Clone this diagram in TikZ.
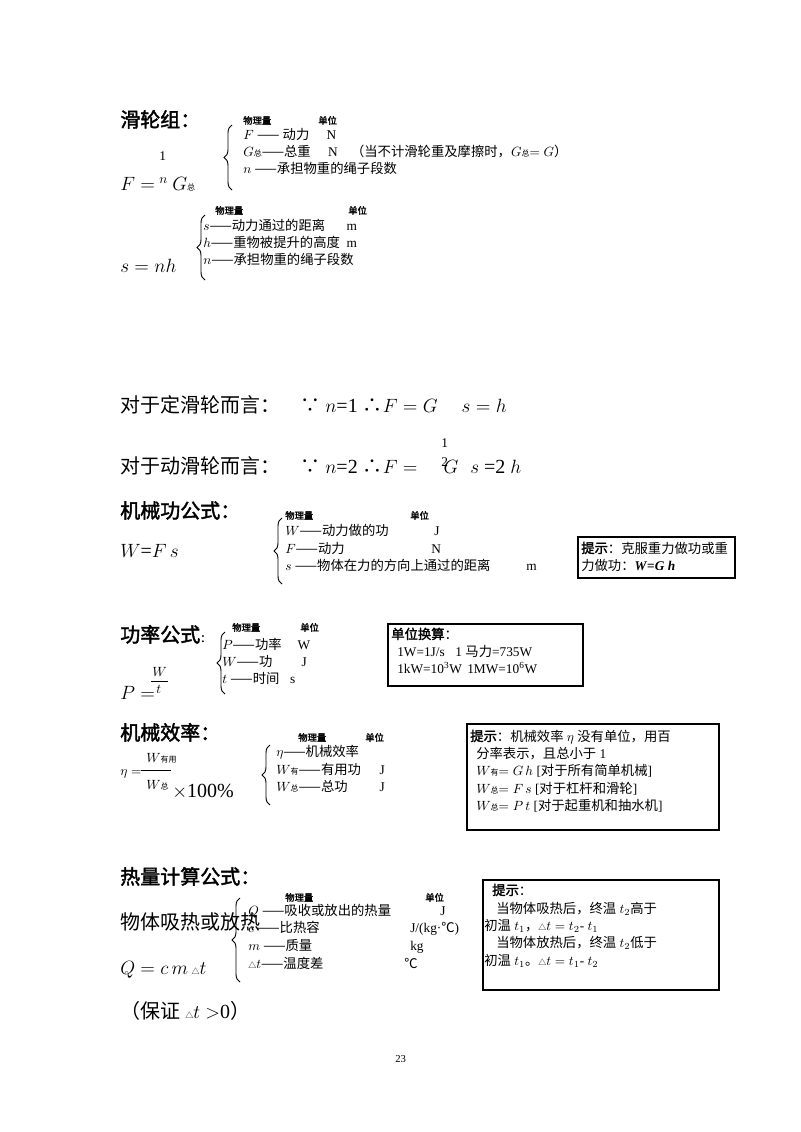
\documentclass[tikz,border=0pt]{standalone}
\usepackage{fontspec}
\setmainfont{Liberation Serif}
\newfontfamily\cjk{Noto Sans CJK SC}[AutoFakeBold=2]
\newcommand\zh[1]{{\cjk #1}}
\newcommand\zs[1]{{\cjk\fontsize{6}{7}\selectfont #1}}
\usetikzlibrary{decorations.pathreplacing}

\begin{document}
\begin{tikzpicture}
  [
    x = 0.75pt, y = -0.75pt,
    txt/.style = {anchor = base west, inner sep = 0pt, font = \fontsize{10}{12}\selectfont},
    hdr/.style = {anchor = base west, inner sep = 0pt, font = \cjk\bfseries\fontsize{15}{18}\selectfont},
    big/.style = {anchor = base west, inner sep = 0pt, font = \fontsize{15}{18}\selectfont},
    lbl/.style = {anchor = base west, inner sep = 0pt, font = \cjk\bfseries\fontsize{7}{8}\selectfont},
    tipbox/.style = {draw, line width = 0.9pt},
    cbrace/.style = {decorate, decoration = {brace, mirror, amplitude = 6pt}, line width = 0.7pt},
  ]
  \useasboundingbox (0,0) rectangle (800,1132);

  % pulley block
  \node [hdr] (pulleyhead) at (120,127) {滑轮组：};
  \node [lbl] (qty1) at (243,124) {物理量};
  \node [lbl] (unit1) at (318,124) {单位};
  \coordinate (b1top) at (232,125);
  \coordinate (b1bot) at (232,190);
  \draw [cbrace] (b1top) -- (b1bot);
  \node [txt] (row1a) at (243,139) {$F$ \zh{——} \zh{动力}\hspace{1.3em}N};
  \node [txt] (row1b) at (243,156) {$G$\zs{总}\zh{——总重}\hspace{1.3em}N\hspace{1em}\zh{（当不计滑轮重及摩擦时，}$G$\zs{总}$=G$\zh{）}};
  \node [txt] (row1c) at (243,173) {$n$ \zh{——承担物重的绳子段数}};
  \node [big] (pulleyF) at (120,190) {$F=$};
  \node [txt] (frac1) at (159,160) {1};
  \node [txt] (frac1n) at (159,183) {$n$};
  \node [big] (pulleyG) at (172,190) {$G$\zs{总}};

  \node [lbl] (qty2) at (215,214) {物理量};
  \node [lbl] (unit2) at (348,214) {单位};
  \coordinate (b2top) at (205,215);
  \coordinate (b2bot) at (205,280);
  \draw [cbrace] (b2top) -- (b2bot);
  \node [txt] (row2a) at (203,230) {$s$\zh{——动力通过的距离}\hspace{1.6em}m};
  \node [txt] (row2b) at (203,247) {$h$\zh{——重物被提升的高度}\hspace{0.5em}m};
  \node [txt] (row2c) at (203,264) {$n$\zh{——承担物重的绳子段数}};
  \node [big] (pulleys) at (120,272) {$s=nh$};

  % fixed and movable pulley
  \node [big] (fixed) at (120,412) {\zh{对于定滑轮而言：}\hspace{1em}\zh{∵} $n$=1 \zh{∴}$F=G$\hspace{1.2em}$s=h$};
  \node [big] (moving) at (120,473) {\zh{对于动滑轮而言：}\hspace{1em}\zh{∵} $n$=2 \zh{∴}$F=$\hspace{1.3em}$G$\hspace{0.6em}$s$ =2 $h$};
  \node [txt] (frac2a) at (441,447) {1};
  \node [txt] (frac2b) at (441,466) {2};

  % work
  \node [hdr] (workhead) at (120,518) {机械功公式：};
  \node [lbl] (qty3) at (285,519) {物理量};
  \node [lbl] (unit3) at (410,519) {单位};
  \coordinate (b3top) at (282,518);
  \coordinate (b3bot) at (282,584);
  \draw [cbrace] (b3top) -- (b3bot);
  \node [txt] (row3a) at (285,535) {$W$\zh{——动力做的功}};
  \node [txt] (row3b) at (285,553) {$F$\zh{——动力}};
  \node [txt] (row3c) at (285,570) {$s$ \zh{——物体在力的方向上通过的距离}};
  \node [txt] (unit3a) at (434,535) {J};
  \node [txt] (unit3b) at (431,553) {N};
  \node [txt] (unit3c) at (526,570) {m};
  \node [big] (workeq) at (120,557) {$W$=$F\,s$};
  \draw [tipbox] (578,537) rectangle (735,578);
  \node [txt] (tip1a) at (581,553) {\zh{\textbf{提示}：克服重力做功或重}};
  \node [txt] (tip1b) at (581,570) {\zh{力做功：}\textbf{\textit{W}=\textit{G h}}};

  % power
  \node [hdr] (powerhead) at (120,642) {功率公式\fontsize{8}{9}\selectfont：};
  \node [lbl] (qty4) at (232,631) {物理量};
  \node [lbl] (unit4) at (300,631) {单位};
  \coordinate (b4top) at (225,632);
  \coordinate (b4bot) at (225,694);
  \draw [cbrace] (b4top) -- (b4bot);
  \node [txt] (row4a) at (222,649) {$P$\zh{——功率}\hspace{1.2em}W};
  \node [txt] (row4b) at (222,666) {$W$\zh{——功}\hspace{2.2em}J};
  \node [txt] (row4c) at (222,683) {$t$ \zh{——时间}\hspace{0.8em}s};
  \node [txt] (powerW) at (152,676) {$W$};
  \coordinate (pfl) at (151,681);
  \coordinate (pfr) at (168,681);
  \draw [line width = 0.5pt] (pfl) -- (pfr);
  \node [txt] (powert) at (156,693) {$t$};
  \node [big] (powerP) at (120,699) {$P=$};
  \draw [tipbox] (388,624) rectangle (583,686);
  \node [txt] (tip2a) at (391,639) {\zh{\textbf{单位换算}：}};
  \node [txt] (tip2b) at (397,656) {1W=1J/s\hspace{0.8em}1 \zh{马力}=735W};
  \node [txt] (tip2c) at (397,673) {1kW=10\textsuperscript{3}W\hspace{0.4em}1MW=10\textsuperscript{6}W};

  % efficiency
  \node [hdr] (effhead) at (120,740) {机械效率：};
  \node [lbl] (qty5) at (298,741) {物理量};
  \node [lbl] (unit5) at (365,741) {单位};
  \coordinate (b5top) at (270,745);
  \coordinate (b5bot) at (270,805);
  \draw [cbrace] (b5top) -- (b5bot);
  \node [txt] (row5a) at (276,756) {$\eta$\zh{——机械效率}};
  \node [txt] (row5b) at (276,774) {$W$\zs{有}\zh{——有用功}\hspace{1.4em}J};
  \node [txt] (row5c) at (276,791) {$W$\zs{总}\zh{——总功}\hspace{2.4em}J};
  \node [txt] (effeta) at (120,775) {$\eta=$};
  \node [txt] (effnum) at (146,762) {$W$\zs{有用}};
  \coordinate (efl) at (141,770);
  \coordinate (efr) at (171,770);
  \draw [line width = 0.5pt] (efl) -- (efr);
  \node [txt] (effden) at (146,789) {$W$\zs{总}};
  \node [big] (effpct) at (172,797) {$\times$100\%};
  \draw [tipbox] (467,724) rectangle (719,830);
  \node [txt] (tip3a) at (470,741) {\zh{\textbf{提示}：机械效率} $\eta$ \zh{没有单位，用百}};
  \node [txt] (tip3b) at (476,758) {\zh{分率表示，且总小于} 1};
  \node [txt] (tip3c) at (476,775) {$W$\zs{有}$=G\,h$ [\zh{对于所有简单机械}]};
  \node [txt] (tip3d) at (476,793) {$W$\zs{总}$=F\,s$ [\zh{对于杠杆和滑轮}]};
  \node [txt] (tip3e) at (476,810) {$W$\zs{总}$=P\,t$ [\zh{对于起重机和抽水机}]};

  % heat
  \node [hdr] (heathead) at (120,884) {热量计算公式：};
  \node [lbl] (qty6) at (285,901) {物理量};
  \node [lbl] (unit6) at (425,901) {单位};
  \node [big] (heattxt) at (120,929) {\zh{物体吸热或放热}};
  \coordinate (b6top) at (240,898);
  \coordinate (b6bot) at (240,982);
  \draw [cbrace] (b6top) -- (b6bot);
  \node [txt] (row6a) at (248,915) {$Q$ \zh{——吸收或放出的热量}};
  \node [txt] (row6b) at (248,932) {$c$ \zh{——比热容}};
  \node [txt] (row6c) at (248,950) {$m$ \zh{——质量}};
  \node [txt] (row6d) at (248,968) {\zs{△}$t$\zh{——温度差}};
  \node [txt] (unit6a) at (440,915) {J};
  \node [txt] (unit6b) at (410,932) {J/(kg·\zh{℃})};
  \node [txt] (unit6c) at (410,950) {kg};
  \node [txt] (unit6d) at (404,968) {\zh{℃}};
  \node [big] (heateq) at (120,974) {$Q=c\,m$\,\zs{△}$t$};
  \node [big] (heatcond) at (120,1018) {\zh{（保证} \zs{△}$t>$0\zh{）}};
  \draw [tipbox] (483,880) rectangle (719,990);
  \node [txt] (tip4a) at (492,895) {\zh{\textbf{提示}：}};
  \node [txt] (tip4b) at (496,913) {\zh{当物体吸热后，终温} $t_2$\zh{高于}};
  \node [txt] (tip4c) at (484,930) {\zh{初温} $t_1$\zh{，}\zs{△}$t=t_2$- $t_1$};
  \node [txt] (tip4d) at (496,947) {\zh{当物体放热后，终温} $t_2$\zh{低于}};
  \node [txt] (tip4e) at (484,965) {\zh{初温} $t_1$\zh{。}\zs{△}$t=t_1$- $t_2$};

  \node [txt, font = \fontsize{8}{9}\selectfont] (pagenum) at (395,1062) {23};
\end{tikzpicture}
\end{document}
